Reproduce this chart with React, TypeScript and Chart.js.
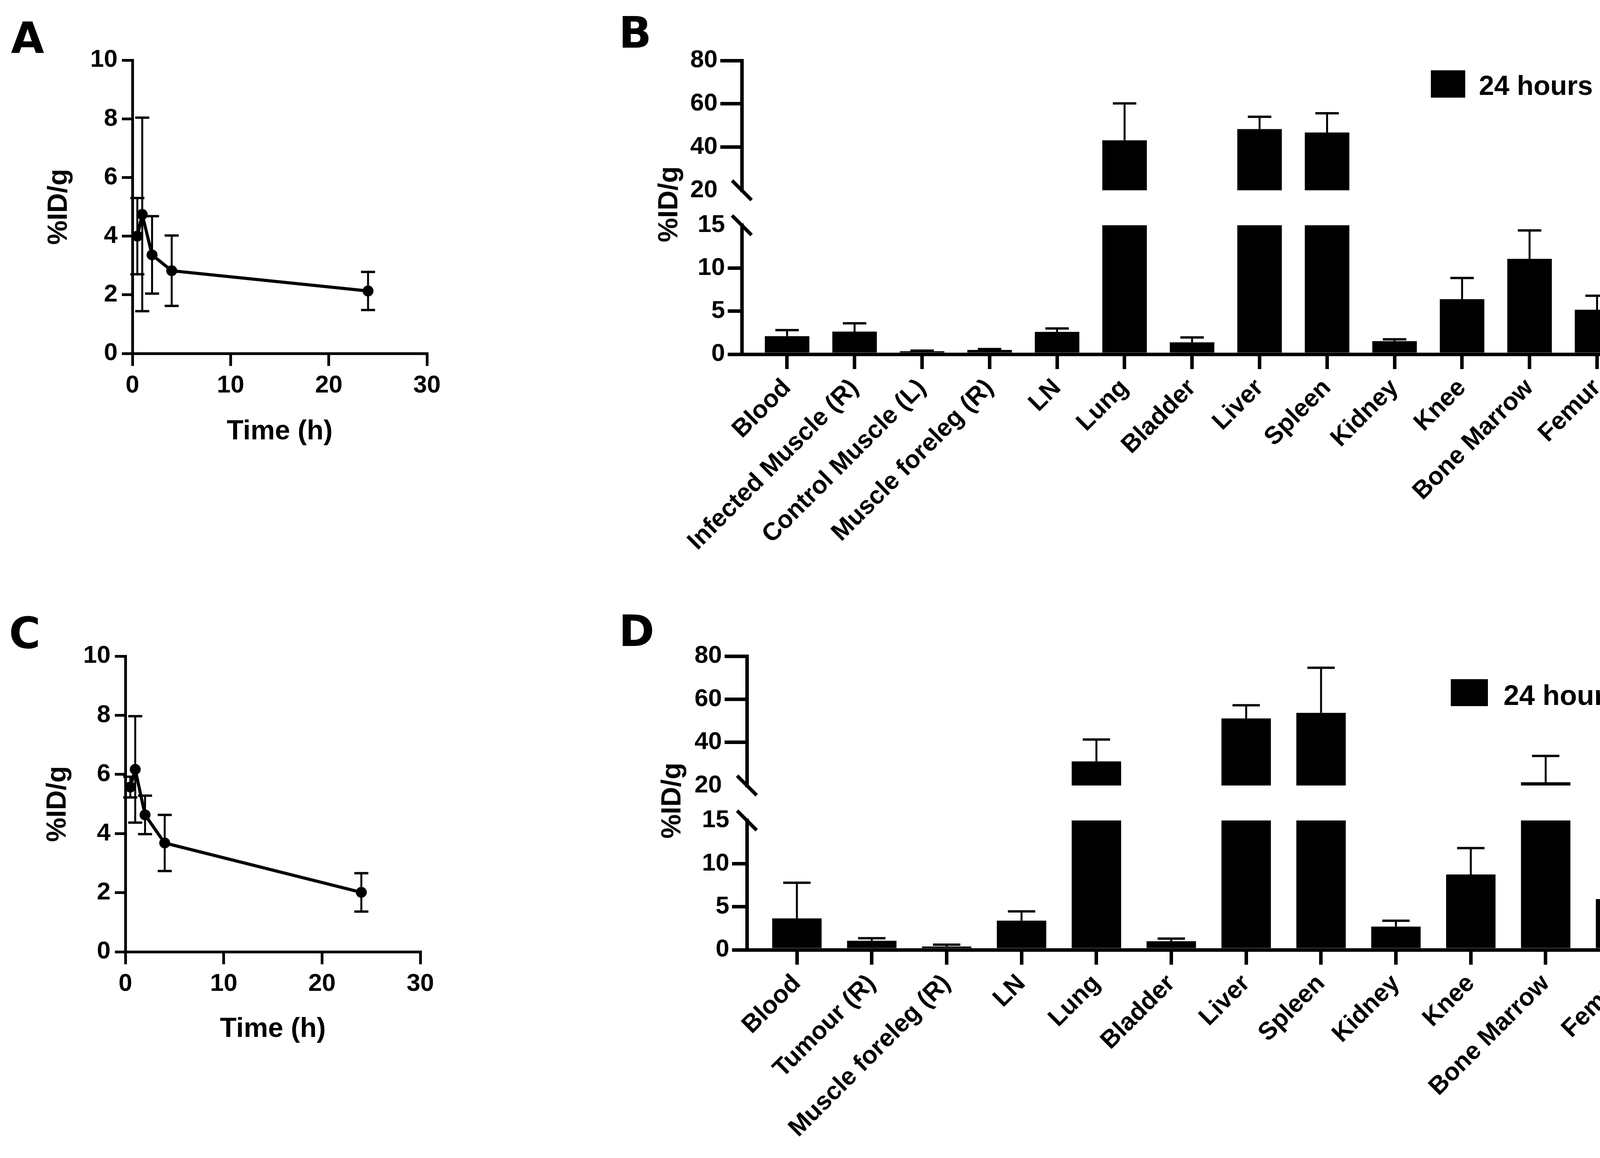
import React, { useEffect, useRef } from 'react';
import { Chart, registerables } from 'chart.js';

Chart.register(...registerables);

const FONT = '"Liberation Sans", Arial, Helvetica, sans-serif';
Chart.defaults.font.family = FONT;
Chart.defaults.color = '#000';

// ---------- Panel A / C : time course ----------
const timeTicks = [0, 10, 20, 30];
const idTicks = [0, 2, 4, 6, 8, 10];

const timesA = [0.5, 1, 2, 4, 24];
const meanA = [4.0, 4.74, 3.36, 2.82, 2.13];
const sdA = [1.3, 3.3, 1.32, 1.2, 0.65];

const timesC = [0.5, 1, 2, 4, 24];
const meanC = [5.57, 6.17, 4.63, 3.68, 2.01];
const sdC = [0.35, 1.8, 0.65, 0.95, 0.65];

// ---------- Panel B / D : biodistribution ----------
const upperTicks = [20, 40, 60, 80];
const lowerTicks = [0, 5, 10, 15];
const legendLabels = ['24 hours'];

const organsB = [
  'Blood', 'Infected Muscle (R)', 'Control Muscle (L)', 'Muscle foreleg (R)', 'LN', 'Lung',
  'Bladder', 'Liver', 'Spleen', 'Kidney', 'Knee', 'Bone Marrow', 'Femur',
];
const meanB = [2.1, 2.64, 0.35, 0.5, 2.6, 43.1, 1.39, 48.3, 46.7, 1.52, 6.4, 11.1, 5.18];
const sdB = [0.7, 0.96, 0.07, 0.1, 0.4, 17.1, 0.56, 5.7, 8.9, 0.22, 2.47, 3.3, 1.62];

const organsD = [
  'Blood', 'Tumour (R)', 'Muscle foreleg (R)', 'LN', 'Lung', 'Bladder',
  'Liver', 'Spleen', 'Kidney', 'Knee', 'Bone Marrow', 'Femur',
];
const meanD = [3.65, 1.05, 0.39, 3.38, 31.2, 1.0, 51.1, 53.7, 2.7, 8.74, 21.5, 5.89];
const sdD = [4.13, 0.3, 0.21, 1.08, 10.1, 0.3, 6.1, 20.9, 0.67, 3.06, 12.2, 3.7];

type Area = { l: number; t: number; r: number; b: number };
type Box = { left: number; top: number; width: number; height: number };

function lineConfig(o: Box & {
  area: Area; times: number[]; mean: number[]; sd: number[]; yTitleCx: number; xTitleCy: number;
}) {
  const titleLH = 70 * 1.2;
  const errPlugin = {
    id: 'errLine',
    beforeDatasetsDraw(chart: any) {
      const { ctx, scales } = chart;
      const x = scales.x, y = scales.y;
      ctx.save();
      ctx.strokeStyle = '#000';
      ctx.lineCap = 'butt';
      o.times.forEach((t, i) => {
        const px = x.getPixelForValue(t);
        const top = y.getPixelForValue(o.mean[i] + o.sd[i]);
        const bot = y.getPixelForValue(o.mean[i] - o.sd[i]);
        ctx.lineWidth = 5;
        ctx.beginPath();
        ctx.moveTo(px, top);
        ctx.lineTo(px, bot);
        ctx.stroke();
        ctx.lineWidth = 6;
        ctx.beginPath();
        ctx.moveTo(px - 18, top);
        ctx.lineTo(px + 18, top);
        ctx.moveTo(px - 18, bot);
        ctx.lineTo(px + 18, bot);
        ctx.stroke();
      });
      ctx.restore();
    },
  };
  return {
    type: 'line',
    data: {
      datasets: [{
        data: o.times.map((t, i) => ({ x: t, y: o.mean[i] })),
        borderColor: '#000',
        backgroundColor: '#000',
        borderWidth: 8,
        pointRadius: 14,
        pointHoverRadius: 14,
        pointBorderWidth: 0,
        pointBackgroundColor: '#000',
        tension: 0,
        fill: false,
        clip: false,
      }],
    },
    options: {
      responsive: false,
      animation: false,
      events: [],
      layout: { padding: { left: 0, top: o.area.t - o.top, right: o.left + o.width - o.area.r, bottom: 0 } },
      plugins: { legend: { display: false }, tooltip: { enabled: false } },
      scales: {
        x: {
          type: 'linear', min: 0, max: 30,
          afterBuildTicks: (s: any) => { s.ticks = timeTicks.map((v) => ({ value: v })); },
          afterFit: (s: any) => { s.height = o.top + o.height - o.area.b; },
          grid: { drawOnChartArea: false, drawTicks: true, tickLength: 32, lineWidth: 7, tickWidth: 7, color: '#000', tickColor: '#000' },
          border: { display: true, color: '#000', width: 7 },
          ticks: { font: { size: 63, weight: 'bold' }, padding: 13, maxRotation: 0, color: '#000' },
          title: {
            display: true, text: 'Time (h)', color: '#000', font: { size: 70, weight: 'bold' },
            padding: { top: 0, bottom: o.top + o.height - titleLH / 2 - o.xTitleCy },
          },
        },
        y: {
          type: 'linear', min: 0, max: 10,
          afterBuildTicks: (s: any) => { s.ticks = idTicks.map((v) => ({ value: v })); },
          afterFit: (s: any) => { s.width = o.area.l - o.left; },
          grid: { drawOnChartArea: false, drawTicks: true, tickLength: 27, lineWidth: 7, tickWidth: 7, color: '#000', tickColor: '#000' },
          border: { display: true, color: '#000', width: 7 },
          ticks: { font: { size: 63, weight: 'bold' }, padding: 11, color: '#000' },
          title: {
            display: true, text: '%ID/g', color: '#000', font: { size: 70, weight: 'bold' },
            padding: { top: o.yTitleCx - o.left - titleLH / 2, bottom: 0 },
          },
        },
      },
    },
    plugins: [errPlugin],
  };
}

function barConfig(o: Box & {
  part: 'top' | 'bottom'; area: Area; cats: string[]; mean: number[]; sd: number[];
  xMin: number; xMax: number; yTicks: number[]; tickLen: number; capW: number; hideTickAt: number;
  legend?: { sx: number; sy: number; sw: number; sh: number; tx: number; ty: number; size: number };
}) {
  const errPlugin = {
    id: 'errBar',
    afterDatasetsDraw(chart: any) {
      const { ctx, chartArea: ca, scales } = chart;
      const x = scales.x, y = scales.y;
      ctx.save();
      ctx.beginPath();
      ctx.rect(ca.left, ca.top, ca.right - ca.left, ca.bottom - ca.top);
      ctx.clip();
      ctx.strokeStyle = '#000';
      o.mean.forEach((m, i) => {
        const px = x.getPixelForValue(i);
        const y0 = y.getPixelForValue(m);
        const y1 = y.getPixelForValue(m + o.sd[i]);
        ctx.lineWidth = 5;
        ctx.beginPath();
        ctx.moveTo(px, y0);
        ctx.lineTo(px, y1);
        ctx.stroke();
        ctx.lineWidth = 6;
        ctx.beginPath();
        ctx.moveTo(px - o.capW / 2, y1);
        ctx.lineTo(px + o.capW / 2, y1);
        ctx.stroke();
      });
      ctx.restore();
    },
  };
  const breakPlugin = {
    id: 'breakMark',
    afterDraw(chart: any) {
      const { ctx, chartArea: ca } = chart;
      const yb = o.part === 'top' ? ca.bottom : ca.top;
      ctx.save();
      ctx.strokeStyle = '#000';
      ctx.lineWidth = 9;
      ctx.beginPath();
      ctx.moveTo(ca.left - 25, yb - 25);
      ctx.lineTo(ca.left + 25, yb + 25);
      ctx.stroke();
      if (o.legend) {
        const L = o.legend;
        ctx.fillStyle = '#000';
        ctx.fillRect(L.sx - o.left, L.sy - o.top, L.sw, L.sh);
        ctx.font = `bold ${L.size}px ${FONT}`;
        ctx.textAlign = 'left';
        ctx.textBaseline = 'alphabetic';
        ctx.fillText(legendLabels[0], L.tx - o.left, L.ty - o.top);
      }
      ctx.restore();
    },
  };
  const isBottom = o.part === 'bottom';
  return {
    type: 'bar',
    data: {
      datasets: [{
        label: legendLabels[0],
        data: o.cats.map((_, i) => ({ x: i, y: o.mean[i] })),
        backgroundColor: '#000',
        borderWidth: 0,
        barPercentage: 0.66,
        categoryPercentage: 1,
      }],
    },
    options: {
      responsive: false,
      animation: false,
      events: [],
      layout: {
        padding: {
          left: 0,
          top: o.area.t - o.top,
          right: o.left + o.width - o.area.r,
          bottom: isBottom ? 0 : o.top + o.height - o.area.b,
        },
      },
      plugins: { legend: { display: false }, tooltip: { enabled: false } },
      scales: {
        x: {
          type: 'linear', min: o.xMin, max: o.xMax, offset: false, display: isBottom,
          afterBuildTicks: (s: any) => { s.ticks = o.cats.map((_, i) => ({ value: i })); },
          afterFit: (s: any) => { if (isBottom) s.height = o.top + o.height - o.area.b; },
          grid: { offset: false, drawOnChartArea: false, drawTicks: true, tickLength: 38, lineWidth: 9, tickWidth: 9, color: '#000', tickColor: '#000' },
          border: { display: true, color: '#000', width: 9 },
          ticks: {
            autoSkip: false, minRotation: 45, maxRotation: 45, padding: 11, color: '#000',
            font: { size: 64, weight: 'bold' },
            callback: (_v: any, i: number) => o.cats[i],
          },
        },
        y: {
          type: 'linear', min: o.yTicks[0], max: o.yTicks[o.yTicks.length - 1], beginAtZero: false,
          afterBuildTicks: (s: any) => { s.ticks = o.yTicks.map((v) => ({ value: v })); },
          afterFit: (s: any) => { s.width = o.area.l - o.left; },
          grid: {
            drawOnChartArea: false, drawTicks: true, tickLength: o.tickLen, lineWidth: 9, tickWidth: 9, color: '#000',
            tickColor: (ctx: any) => (ctx.tick && ctx.tick.value === o.hideTickAt ? 'rgba(0,0,0,0)' : '#000'),
          },
          border: { display: true, color: '#000', width: 9 },
          ticks: { font: { size: 63, weight: 'bold' }, padding: 7, color: '#000' },
        },
      },
    },
    plugins: [errPlugin, breakPlugin],
  };
}

function ChartCanvas({ box, make }: { box: Box; make: () => any }) {
  const ref = useRef<HTMLCanvasElement>(null);
  useEffect(() => {
    const chart = new Chart(ref.current as HTMLCanvasElement, make());
    return () => chart.destroy();
  }, []);
  return (
    <canvas
      ref={ref}
      width={box.width}
      height={box.height}
      style={{ position: 'absolute', left: box.left, top: box.top, width: box.width, height: box.height }}
    />
  );
}

const letterStyle = (left: number, top: number): React.CSSProperties => ({
  position: 'absolute', left, top, font: `bold 110px "DejaVu Sans", ${FONT}`, lineHeight: 1, color: '#000',
});
const yTitleStyle = (cx: number, cy: number): React.CSSProperties => ({
  position: 'absolute', left: cx, top: cy, transform: 'translate(-50%, -50%) rotate(-90deg)',
  font: `bold 70px ${FONT}`, lineHeight: 1, whiteSpace: 'nowrap', color: '#000',
});

const boxA: Box = { left: 0, top: 0, width: 1150, height: 1180 };
const boxC: Box = { left: 0, top: 1530, width: 1150, height: 1180 };
const boxBt: Box = { left: 1600, top: 100, width: 2710, height: 432 };
const boxBb: Box = { left: 1600, top: 532, width: 2710, height: 988 };
const boxDt: Box = { left: 1600, top: 1620, width: 2710, height: 436 };
const boxDb: Box = { left: 1600, top: 2056, width: 2710, height: 909 };

export default function App() {
  return (
    <div style={{ position: 'absolute', left: 0, top: 0, width: 4310, height: 2965, background: '#fff', overflow: 'hidden' }}>
      <div style={letterStyle(28, 43)}>A</div>
      <div style={letterStyle(1584, 29)}>B</div>
      <div style={letterStyle(23, 1566)}>C</div>
      <div style={letterStyle(1584, 1561)}>D</div>

      <ChartCanvas box={boxA} make={() => lineConfig({
        ...boxA, area: { l: 339, t: 154, r: 1093, b: 905 }, times: timesA, mean: meanA, sd: sdA, yTitleCx: 152, xTitleCy: 1106,
      })} />
      <ChartCanvas box={boxC} make={() => lineConfig({
        ...boxC, area: { l: 321, t: 1680, r: 1076, b: 2437 }, times: timesC, mean: meanC, sd: sdC, yTitleCx: 149, xTitleCy: 2636,
      })} />

      <ChartCanvas box={boxBt} make={() => barConfig({
        ...boxBt, part: 'top', area: { l: 1899, t: 155, r: 4206, b: 499 }, cats: organsB, mean: meanB, sd: sdB,
        xMin: -0.671, xMax: 12.68, yTicks: upperTicks, tickLen: 55, capW: 60, hideTickAt: 20,
        legend: { sx: 3663, sy: 180, sw: 88, sh: 70, tx: 3786, ty: 243, size: 70 },
      })} />
      <ChartCanvas box={boxBb} make={() => barConfig({
        ...boxBb, part: 'bottom', area: { l: 1899, t: 567, r: 4206, b: 907 }, cats: organsB, mean: meanB, sd: sdB,
        xMin: -0.671, xMax: 12.68, yTicks: lowerTicks, tickLen: 36, capW: 60, hideTickAt: 15,
      })} />
      <div style={yTitleStyle(1710, 523)}>%ID/g</div>

      <ChartCanvas box={boxDt} make={() => barConfig({
        ...boxDt, part: 'top', area: { l: 1912, t: 1680, r: 4279, b: 2023 }, cats: organsD, mean: meanD, sd: sdD,
        xMin: -0.668, xMax: 11.68, yTicks: upperTicks, tickLen: 57, capW: 70, hideTickAt: 20,
        legend: { sx: 3714, sy: 1739, sw: 95, sh: 69, tx: 3849, ty: 1805, size: 72 },
      })} />
      <ChartCanvas box={boxDb} make={() => barConfig({
        ...boxDb, part: 'bottom', area: { l: 1912, t: 2089, r: 4279, b: 2432 }, cats: organsD, mean: meanD, sd: sdD,
        xMin: -0.668, xMax: 11.68, yTicks: lowerTicks, tickLen: 38, capW: 70, hideTickAt: 15,
      })} />
      <div style={yTitleStyle(1718, 2050)}>%ID/g</div>
    </div>
  );
}
